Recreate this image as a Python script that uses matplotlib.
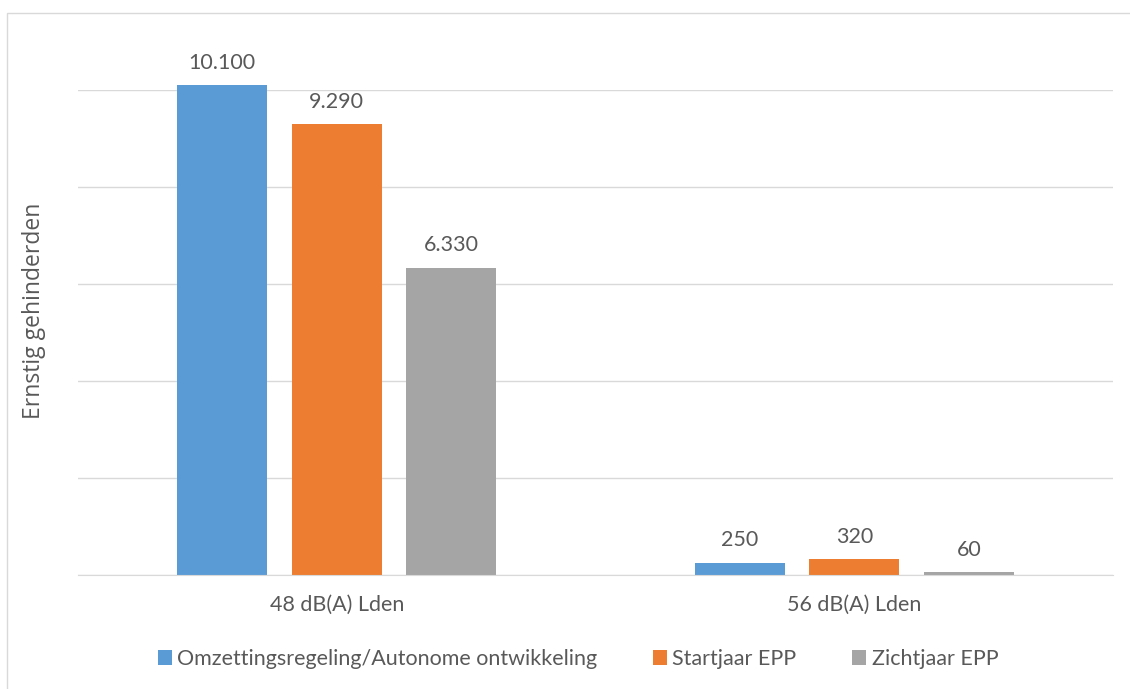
import matplotlib
matplotlib.use("Agg")
import matplotlib.pyplot as plt
import numpy as np
from matplotlib.patches import Rectangle

categories = ["48 dB(A) Lden", "56 dB(A) Lden"]
series_names = ["Omzettingsregeling/Autonome ontwikkeling", "Startjaar EPP", "Zichtjaar EPP"]
omzetting = [10100, 250]
startjaar = [9290, 320]
zichtjaar = [6330, 60]
value_labels = [["10.100", "250"], ["9.290", "320"], ["6.330", "60"]]
colors = ["#5B9BD5", "#ED7D31", "#A5A5A5"]

plt.rcParams['font.family'] = ['Lato', 'DejaVu Sans']
txt = "#595959"
fs = 15.5

fig = plt.figure(figsize=(11.30, 6.89), dpi=100)
ax = fig.add_axes([78/1130, 1-575/689, (1113-78)/1130, (575-90)/689])

x = np.arange(len(categories))
width = 90/517.5
step = 114.5/517.5
for i, (vals, c) in enumerate(zip([omzetting, startjaar, zichtjaar], colors)):
    pos = x + (i-1)*step
    ax.bar(pos, vals, width, color=c, label=series_names[i], clip_on=False, zorder=3)
    for p, v, lab in zip(pos, vals, value_labels[i]):
        ax.annotate(lab, (p, v), xytext=(0, 9), textcoords="offset points",
                    ha="center", va="bottom", fontsize=fs, color=txt, annotation_clip=False)

ax.set_xlim(-0.5, 1.5)
ax.set_ylim(0, 10000)
ax.set_yticks(np.arange(0, 10001, 2000))
ax.yaxis.grid(True, color="#D9D9D9", linewidth=1, zorder=0)
ax.set_yticklabels([])
ax.tick_params(axis='y', length=0)
ax.tick_params(axis='x', length=0, pad=14, labelsize=fs, labelcolor=txt)
ax.set_xticks(x)
ax.set_xticklabels(categories)
for s in ["top", "right", "left"]:
    ax.spines[s].set_visible(False)
ax.spines["bottom"].set_color("#D9D9D9")
ax.spines["bottom"].set_zorder(4)
fig.text(34/1130, 1-311/689, "Ernstig gehinderden", rotation=90, ha="center", va="center",
         fontsize=16.5, color=txt, family=["Open Sans", "DejaVu Sans"])

fig.legend(loc="center", bbox_to_anchor=(578/1130, 1-659/689), ncol=3, frameon=False,
           fontsize=fs, labelcolor=txt, handlelength=0.65, handleheight=0.65,
           handletextpad=0.25, columnspacing=2.6)

# outer chart border
fig.add_artist(Rectangle((7/1130, -0.01), 1.2, 1-13/689+0.01, transform=fig.transFigure,
                         fill=False, edgecolor="#D9D9D9", linewidth=1))

fig.savefig("out.png", dpi=100, facecolor="white")
